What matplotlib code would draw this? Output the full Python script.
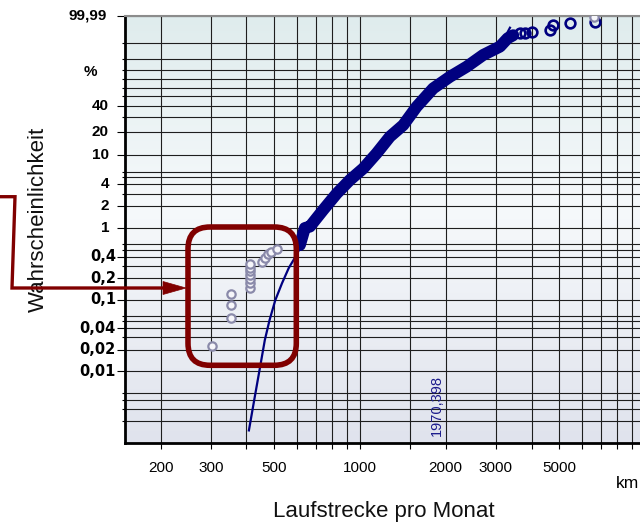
import numpy as np
import matplotlib
matplotlib.use("Agg")
import matplotlib.pyplot as plt
from matplotlib.colors import LinearSegmentedColormap
from matplotlib.patches import FancyBboxPatch, Polygon
from matplotlib.lines import Line2D
from matplotlib.ticker import FixedLocator, FixedFormatter, NullFormatter
from matplotlib.transforms import IdentityTransform, blended_transform_factory

plt.rcParams['font.family'] = ['Liberation Sans', 'DejaVu Sans']

# Weibull-Netz: Laufstrecke pro Monat (km) gegen Ausfallwahrscheinlichkeit (%)
band_km = [616, 641, 668, 743, 829, 922, 1027, 1144, 1274, 1419, 1581, 1808,
           2069, 2368, 2707, 3099, 3300, 3450]
band_pct = [0.58, 1.0, 1.05, 1.78, 3.0, 4.6, 6.6, 10.5, 17.3, 24.1, 39.2, 59.3,
            72.9, 83.5, 92.8, 96.8, 98.9, 99.3]

top_km = [3642, 3793, 4022, 4642, 4767, 5455, 6676]
top_pct = [99.49, 99.49, 99.62, 99.72, 99.90, 99.93, 99.95]

# Ausreisser unter 600 km
low_km = [302, 353, 353, 353, 411, 411, 411, 411, 411, 411, 411,
          452, 464, 477, 486, 514, 6630]
low_pct = [0.0226, 0.055, 0.085, 0.12, 0.147, 0.17, 0.193, 0.22, 0.25, 0.281,
           0.316, 0.34, 0.378, 0.436, 0.469, 0.507, 99.985]

# Ausgleichskurve
fit_km = [408, 426, 451, 464, 482, 505, 533, 563, 599, 636, 673, 743, 829, 922,
          1027, 1144, 1274, 1419, 1581, 1808, 2069, 2368, 2707, 3099, 3360]
fit_pct = [0.0015, 0.0040, 0.0144, 0.0274, 0.052, 0.099, 0.17, 0.278, 0.42,
           0.68, 1.04, 1.78, 3.0, 4.6, 6.6, 10.5, 17.3, 24.1, 39.2, 59.3, 72.9,
           83.5, 92.8, 96.8, 99.82]

char_km = 1970.398

x_major = [200, 300, 500, 1000, 2000, 3000, 5000]
x_minor = [400, 600, 700, 800, 900, 1500, 4000, 6000, 7000, 8000, 9000]
y_major = [99.99, 40, 20, 10, 4, 2, 1, 0.4, 0.2, 0.1, 0.04, 0.02, 0.01]
y_major_labels = ['99,99', '40', '20', '10', '4', '2', '1', '0,4', '0,2', '0,1',
                  '0,04', '0,02', '0,01']
y_minor = [98, 90, 80, 70, 60, 50, 30, 6, 5, 3, 0.6, 0.5, 0.3, 0.06, 0.05,
           0.03, 0.005, 0.004, 0.003, 0.002]


def weib(p):
    p = np.clip(np.asarray(p, dtype=float), 1e-9, 100 - 1e-9)
    return np.log(-np.log(1 - p / 100))


def weib_inv(w):
    return 100 * (1 - np.exp(-np.exp(np.asarray(w, dtype=float))))


W, H = 640, 523
fig = plt.figure(figsize=(W / 100, H / 100), dpi=100)
pos = [125 / W, (H - 443) / H, (645 - 125) / W, (443 - 16) / H]

# Hintergrundverlauf
bg = fig.add_axes(pos, zorder=0)
cmap = LinearSegmentedColormap.from_list(
    'bg', [(0, '#e0e3ed'), (0.55, '#f6f9fb'), (1, '#dfeced')])
bg.imshow(np.linspace(0, 1, 256).reshape(-1, 1), cmap=cmap, aspect='auto',
          origin='lower', extent=[0, 1, 0, 1])
bg.axis('off')

ax = fig.add_axes(pos, zorder=1)
ax.patch.set_alpha(0)
ax.set_xscale('log')
ax.set_yscale('function', functions=(weib, weib_inv))

ax.plot(fit_km, fit_pct, color='#000080', lw=1.6, zorder=3)
ax.plot(band_km, band_pct, color='#000080', lw=8.6, solid_capstyle='round',
        zorder=4)
ax.plot(top_km, top_pct, 'o', ms=7, mfc='none', mec='#000080', mew=1.9,
        zorder=4)
ax.plot(low_km, low_pct, 'o', ms=6, mfc='#f6f6fa', mec='#8a8aaa', mew=1.6,
        zorder=5)

ax.set_xlim(150, 10000)
ax.set_ylim(0.001, 99.99)

ax.xaxis.set_major_locator(FixedLocator(x_major))
ax.xaxis.set_major_formatter(FixedFormatter([str(v) for v in x_major]))
ax.xaxis.set_minor_locator(FixedLocator(x_minor))
ax.xaxis.set_minor_formatter(NullFormatter())
ax.yaxis.set_major_locator(FixedLocator(y_major))
ax.yaxis.set_major_formatter(NullFormatter())
ax.yaxis.set_minor_locator(FixedLocator(y_minor))
ax.yaxis.set_minor_formatter(NullFormatter())

ax.tick_params(axis='x', which='both', length=4.3, width=0.8, pad=8.5,
               labelsize=11)
ax.tick_params(axis='y', which='major', length=5.6, width=0.8)
ax.tick_params(axis='y', which='minor', length=2.4, width=0.8)
ax.grid(which='both', color='#1e1e1e', lw=0.8)

for side in ('left', 'bottom'):
    ax.spines[side].set_linewidth(2.0)
    ax.spines[side].set_color('black')
ax.spines['top'].set_color('#8c8c8c')
ax.spines['top'].set_linewidth(1.5)
ax.spines['right'].set_visible(False)

# Beschriftung der Wahrscheinlichkeitsachse
ylab = blended_transform_factory(ax.transAxes, ax.transData)
for val, lab in zip(y_major, y_major_labels):
    fam = ['Liberation Sans']
    if lab == '99,99':
        xr = 107
    elif lab.startswith('0,'):
        xr = 116
        fam = ['DejaVu Sans']
    else:
        xr = 109
    ax.text((xr - 125) / 520, val, lab, transform=ylab, ha='right',
            va='center', fontsize=10.5 if fam[0] == 'DejaVu Sans' else 11,
            fontweight='bold', family=fam, clip_on=False)

ax.text(char_km, 0.016, '1970,398',
        transform=blended_transform_factory(ax.transData, ax.transAxes),
        rotation=90, ha='right', va='bottom', color='#1c1c8c', fontsize=10.5)

fig.text(90.5 / W, 1 - 72 / H, '%', ha='center', va='center', fontsize=11,
         fontweight='bold')
fig.text(616 / W, 1 - 483 / H, 'km', ha='left', va='center', fontsize=12.5)
fig.text(38 / W, 1 - 219 / H, 'Wahrscheinlichkeit', rotation=90,
         ha='center', va='center', fontsize=16, color='#111111')
fig.text(384 / W, 1 - 511 / H, 'Laufstrecke pro Monat', ha='center',
         va='center', fontsize=16, color='#111111')

# Markierung der Ausreisser mit Pfeil
red = '#800000'
box = FancyBboxPatch((188, H - 365.3), 296.3 - 188, 365.3 - 227,
                     boxstyle='round,pad=0,rounding_size=22',
                     transform=IdentityTransform(), fill=False, ec=red,
                     lw=4, zorder=6)
fig.add_artist(box)
fig.add_artist(Line2D([0, 15, 12, 166], [H - 196.7, H - 196.7, H - 288, H - 288],
                      transform=IdentityTransform(), color=red, lw=2.4,
                      solid_joinstyle='miter', zorder=6))
fig.add_artist(Polygon([[163, H - 281.5], [186, H - 288], [163, H - 294.5]],
                       closed=True, transform=IdentityTransform(), fc=red,
                       ec=red, lw=0.5, zorder=6))

fig.savefig('out.png', dpi=100)
